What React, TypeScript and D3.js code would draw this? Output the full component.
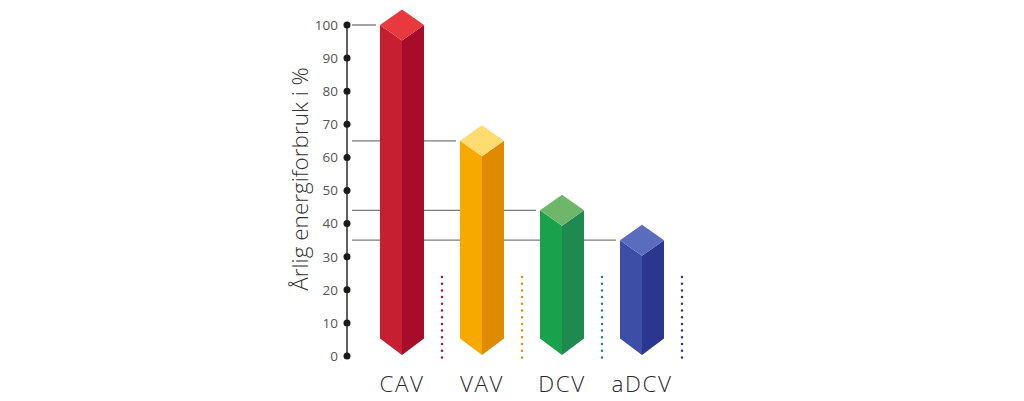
import React, { useEffect, useRef } from "react";
import * as d3 from "d3";

const categories = ["CAV", "VAV", "DCV", "aDCV"];
const values = [100, 65, 44, 35];
const yTicks = [0, 10, 20, 30, 40, 50, 60, 70, 80, 90, 100];
const yTitle = "Årlig energiforbruk i %";

// face colours per bar: top, left, right
const topColors = ["#e8393e", "#ffdb70", "#6db66a", "#5a6cbd"];
const leftColors = ["#c51f31", "#f7a900", "#19a24b", "#3c4ea6"];
const rightColors = ["#a70d2b", "#e08a00", "#1e8a4f", "#2b3690"];
const dotColors = ["#b3103a", "#e0900a", "#1e8a5f", "#2b3690"];

export default function App() {
  const svgRef = useRef<SVGSVGElement>(null);

  useEffect(() => {
    if (!svgRef.current) return;
    const svg = d3.select(svgRef.current);
    svg.selectAll("*").remove();

    const font = "'Open Sans', 'Noto Sans', sans-serif";
    const axisX = 347;

    const y = d3.scaleLinear().domain([0, 100]).range([356, 25]);
    const x = d3
      .scaleBand<string>()
      .domain(categories)
      .range([362, 682])
      .paddingInner(0.45)
      .paddingOuter(0.225);

    const hh = 15.5; // half height of the top diamond
    const y0 = y(0);

    // reference lines from the axis to each bar's top corner
    values.forEach((v, i) => {
      svg.append("line")
        .attr("x1", axisX + 5)
        .attr("x2", (x(categories[i]) as number) - 4)
        .attr("y1", y(v))
        .attr("y2", y(v))
        .attr("stroke", "#7a7a7a")
        .attr("stroke-width", 1.4);
    });

    // axis line
    svg.append("line")
      .attr("x1", axisX)
      .attr("x2", axisX)
      .attr("y1", y(100))
      .attr("y2", y(0))
      .attr("stroke", "#2b2b2b")
      .attr("stroke-width", 1.5);

    // tick dots and labels
    const ticks = svg.append("g");
    yTicks.forEach((t) => {
      ticks.append("circle")
        .attr("cx", axisX)
        .attr("cy", y(t))
        .attr("r", 3.5)
        .attr("fill", "#1a1a1a");
      ticks.append("text")
        .attr("x", axisX - 9)
        .attr("y", y(t))
        .attr("dy", "0.36em")
        .attr("text-anchor", "end")
        .attr("fill", "#555")
        .style("font-family", font)
        .style("font-size", "13.5px")
        .text(t);
    });

    // y axis title
    svg.append("text")
      .attr("transform", `translate(308,${179}) rotate(-90)`)
      .attr("text-anchor", "middle")
      .attr("fill", "#333")
      .style("font-family", font)
      .style("font-weight", 300)
      .style("font-size", "22.5px")
      .text(yTitle);

    // 3d prisms
    categories.forEach((c, i) => {
      const L = x(c) as number;
      const R = L + x.bandwidth();
      const C = (L + R) / 2;
      const yt = y(values[i]);
      const yb = y0 - 1;
      const g = svg.append("g");
      g.append("polygon")
        .attr("points", [[L, yt], [C, yt + hh], [C, yb], [L, yb - hh - 1]].map((p) => p.join(",")).join(" "))
        .attr("fill", leftColors[i]);
      g.append("polygon")
        .attr("points", [[C, yt + hh], [R, yt], [R, yb - hh - 1], [C, yb]].map((p) => p.join(",")).join(" "))
        .attr("fill", rightColors[i]);
      g.append("polygon")
        .attr("points", [[L, yt], [C, yt - hh], [R, yt], [C, yt + hh]].map((p) => p.join(",")).join(" "))
        .attr("fill", topColors[i]);

      // dotted separator to the right of the bar
      svg.append("line")
        .attr("x1", C + 40)
        .attr("x2", C + 40)
        .attr("y1", 277)
        .attr("y2", 358)
        .attr("stroke", dotColors[i])
        .attr("stroke-width", 2.5)
        .attr("stroke-linecap", "round")
        .attr("stroke-dasharray", "0 6.7");

      // category label
      svg.append("text")
        .attr("x", C)
        .attr("y", 392)
        .attr("text-anchor", "middle")
        .attr("fill", "#2a2a2a")
        .style("font-family", font)
        .style("font-weight", 300)
        .style("font-size", "22.5px")
        .style("letter-spacing", "1.5px")
        .text(c);
    });
  }, []);

  return (
    <svg
      ref={svgRef}
      width={1024}
      height={401}
      style={{ position: "absolute", left: 0, top: 0, display: "block", background: "#fff" }}
    />
  );
}
